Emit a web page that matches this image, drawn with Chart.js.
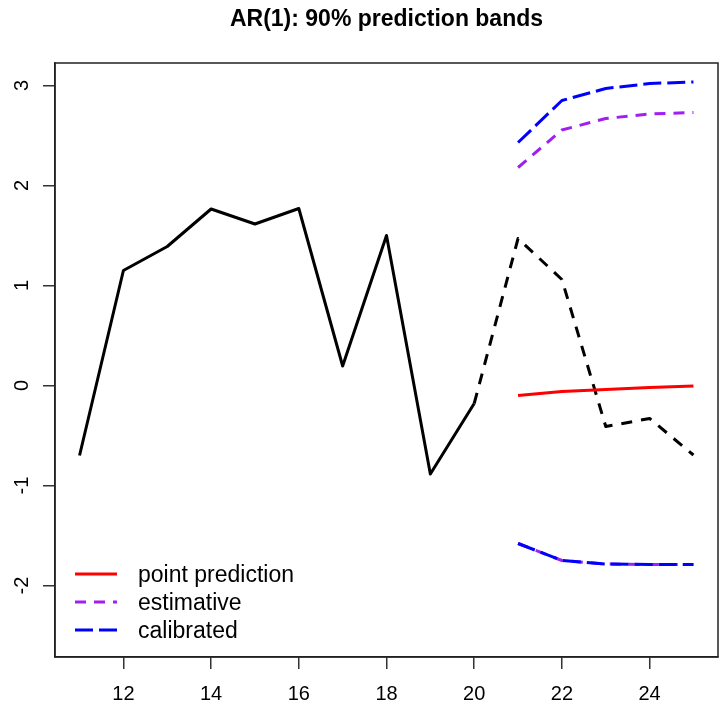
<!DOCTYPE html>
<html>
<head>
<meta charset="utf-8">
<script src="https://cdn.jsdelivr.net/npm/chart.js@4/dist/chart.umd.min.js"></script>
<style>
  html, body { margin: 0; padding: 0; background: #ffffff; }
  canvas { display: block; }
</style>
</head>
<body>
<canvas id="c" width="722" height="710"></canvas>
<script>
// ---- data ----
const obsX = [11, 12, 13, 14, 15, 16, 17, 18, 19, 20];
const obsY = [-0.70, 1.15, 1.39, 1.765, 1.615, 1.77, 0.195, 1.50, -0.885, -0.18];
const futX = [20, 21, 22, 23, 24, 25];
const futY = [-0.18, 1.47, 1.06, -0.41, -0.33, -0.695];
const predX = [21, 22, 23, 24, 25];
const pointPred = [-0.10, -0.06, -0.04, -0.02, -0.005];
const estUpper = [2.18, 2.555, 2.67, 2.715, 2.73];
const estLower = [-1.58, -1.75, -1.785, -1.79, -1.79];
const calUpper = [2.43, 2.85, 2.97, 3.02, 3.035];
const calLower = [-1.58, -1.75, -1.785, -1.79, -1.79];
const xTicks = [12, 14, 16, 18, 20, 22, 24];
const yTicks = [-2, -1, 0, 1, 2, 3];
const titleText = 'AR(1): 90% prediction bands';
const legendLabels = ['point prediction', 'estimative', 'calibrated'];

const FONT = '"Liberation Sans", Arial, Helvetica, sans-serif';
const pts = (xs, ys) => xs.map((x, i) => ({ x: x, y: ys[i] }));

const legendStyles = [
  { color: '#ff0000', dash: [] },
  { color: '#a020f0', dash: [11, 8] },
  { color: '#0000ff', dash: [18, 6] }
];

const extras = {
  id: 'extras',
  afterDraw(chart) {
    const ctx = chart.ctx;
    const a = chart.chartArea;
    const ys = chart.scales.y;
    ctx.save();
    // box around plot
    ctx.strokeStyle = '#222';
    ctx.lineWidth = 1.5;
    ctx.strokeRect(a.left, a.top, a.right - a.left, a.bottom - a.top);
    // rotated y tick labels
    ctx.fillStyle = '#000';
    ctx.font = '20px ' + FONT;
    ctx.textAlign = 'center';
    ctx.textBaseline = 'middle';
    yTicks.forEach(v => {
      const py = ys.getPixelForValue(v);
      ctx.save();
      ctx.translate(a.left - 33, py);
      ctx.rotate(-Math.PI / 2);
      ctx.fillText(String(v), 0, 0);
      ctx.restore();
    });
    // legend
    const lx0 = a.left + 20, lx1 = a.left + 62, tx = a.left + 83;
    const ly0 = a.bottom - 83, step = 28;
    ctx.font = '23px ' + FONT;
    ctx.textAlign = 'left';
    legendLabels.forEach((lab, i) => {
      const y = ly0 + i * step;
      ctx.beginPath();
      ctx.setLineDash(legendStyles[i].dash);
      ctx.strokeStyle = legendStyles[i].color;
      ctx.lineWidth = 3;
      ctx.moveTo(lx0, y);
      ctx.lineTo(lx1, y);
      ctx.stroke();
      ctx.setLineDash([]);
      ctx.fillStyle = '#000';
      ctx.fillText(lab, tx, y + 2);
    });
    ctx.restore();
  }
};

const lineDs = (label, data, color, dash, order) => ({
  label: label,
  data: data,
  borderColor: color,
  backgroundColor: color,
  borderWidth: 3,
  borderDash: dash,
  borderJoinStyle: 'round',
  pointRadius: 0,
  tension: 0,
  fill: false,
  order: order
});

new Chart(document.getElementById('c'), {
  type: 'line',
  data: {
    datasets: [
      lineDs('observed', pts(obsX, obsY), '#000000', [], 4),
      lineDs('future', pts(futX, futY), '#000000', [11, 9], 3),
      lineDs('point prediction', pts(predX, pointPred), '#ff0000', [], 2),
      lineDs('estimative upper', pts(predX, estUpper), '#a020f0', [11, 8], 1),
      lineDs('estimative lower', pts(predX, estLower), '#a020f0', [11, 8], 1),
      lineDs('calibrated upper', pts(predX, calUpper), '#0000ff', [18, 6], 0),
      lineDs('calibrated lower', pts(predX, calLower), '#0000ff', [18, 6], 0)
    ]
  },
  options: {
    responsive: false,
    animation: false,
    devicePixelRatio: 1,
    layout: { padding: { left: 0, right: 4, top: 0, bottom: 0 } },
    plugins: {
      legend: { display: false },
      tooltip: { enabled: false },
      title: {
        display: true,
        text: titleText,
        fullSize: false,
        color: '#000',
        font: { family: FONT, size: 23, weight: 'bold', lineHeight: 1.2 },
        padding: { top: 6, bottom: 29.4 }
      }
    },
    scales: {
      x: {
        type: 'linear',
        position: 'bottom',
        min: 10.44,
        max: 25.56,
        afterBuildTicks: s => { s.ticks = xTicks.map(v => ({ value: v })); },
        afterFit: s => { s.height = 53; },
        ticks: { color: '#000', font: { family: FONT, size: 20 }, padding: 13, maxRotation: 0, autoSkip: false },
        grid: { drawOnChartArea: false, drawTicks: true, tickLength: 12, color: '#333', lineWidth: 1.5 },
        border: { display: true, color: '#222', width: 1.5 }
      },
      y: {
        type: 'linear',
        position: 'left',
        min: -2.715,
        max: 3.225,
        afterBuildTicks: s => { s.ticks = yTicks.map(v => ({ value: v })); },
        afterFit: s => { s.width = 55; },
        ticks: { display: false },
        grid: { drawOnChartArea: false, drawTicks: true, tickLength: 12, color: '#333', lineWidth: 1.5 },
        border: { display: true, color: '#222', width: 1.5 }
      }
    }
  },
  plugins: [extras]
});
</script>
</body>
</html>
